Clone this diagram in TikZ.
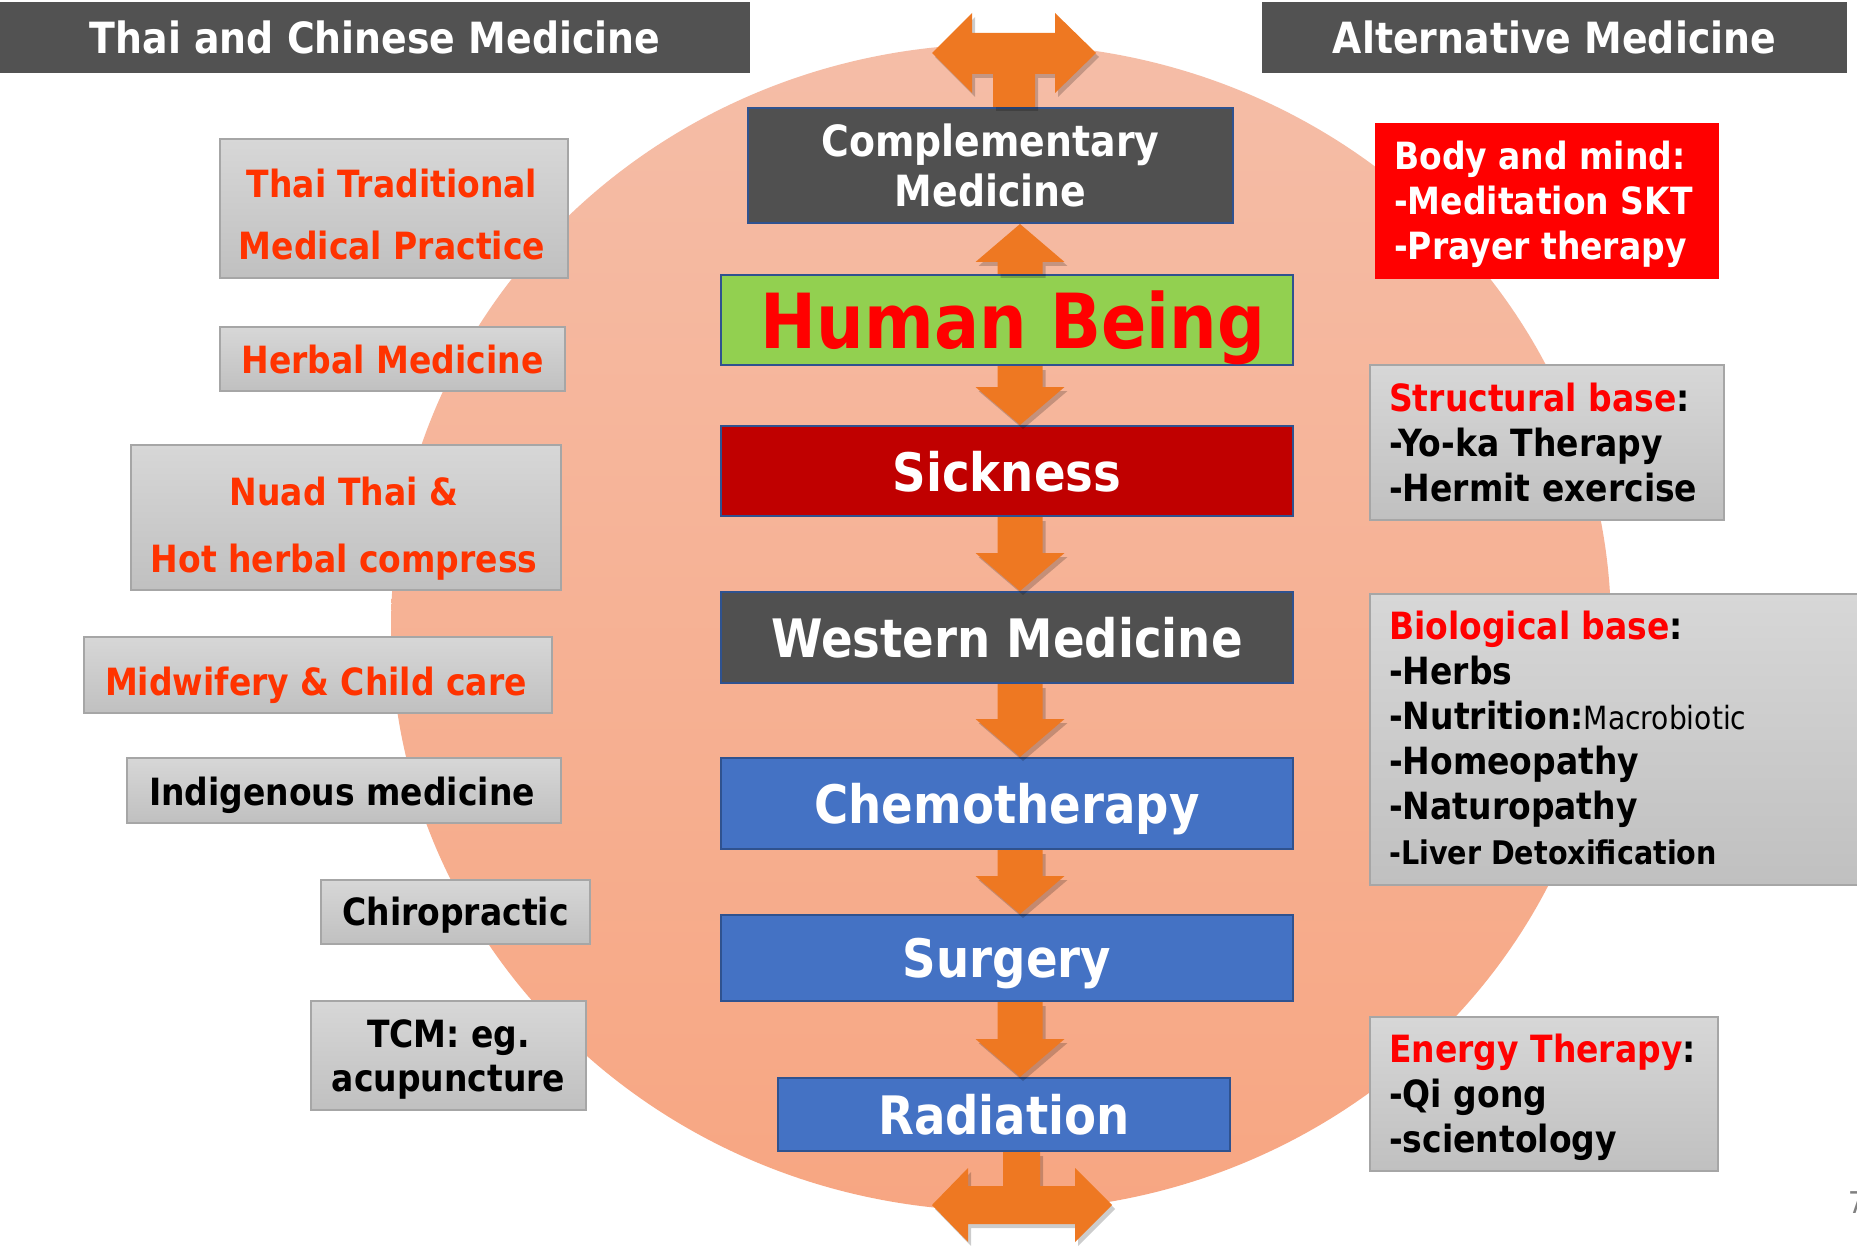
\documentclass[tikz,border=0pt]{standalone}
\usepackage{fontspec}
\setmainfont[FakeStretch=0.88]{DejaVu Sans}
\usetikzlibrary{calc,shadows}
\definecolor{darkbox}{RGB}{80,80,80}
\definecolor{hdr}{RGB}{82,82,82}
\definecolor{greenbox}{RGB}{146,208,80}
\definecolor{sickred}{RGB}{192,0,0}
\definecolor{bluebox}{RGB}{68,114,196}
\definecolor{bordblue}{RGB}{47,82,143}
\definecolor{orangetxt}{RGB}{255,51,0}
\definecolor{pured}{RGB}{255,0,0}
\definecolor{arrowor}{RGB}{238,120,34}
\definecolor{circtop}{RGB}{245,189,167}
\definecolor{circbot}{RGB}{247,166,130}
\definecolor{graytop}{RGB}{215,215,215}
\definecolor{graybot}{RGB}{192,192,192}
\definecolor{grayline}{RGB}{166,166,166}
\newcommand\fs[2]{\fontsize{#1}{#2}\selectfont\bfseries}
\def\ax{1020pt}
\newcommand\flowdown[2]{%
  \fill[flowarr] let \p1=(#1.south), \p2=(#2.north) in
    (\ax-22.5pt,\y1) -- (\ax+22.5pt,\y1) -- (\ax+22.5pt,\y2+38pt) -- (\ax+44.5pt,\y2+38pt)
    -- (\ax,\y2) -- (\ax-44.5pt,\y2+38pt) -- (\ax-22.5pt,\y2+38pt) -- cycle;}
\begin{document}
\begin{tikzpicture}[x=1pt,y=-1pt,
  hdrbox/.style={fill=hdr, inner sep=0pt, text=white, font=\fs{43}{50}},
  cbox/.style={draw=bordblue, line width=2pt, inner sep=0pt, align=center, text=white, font=\fs{53}{60}, text depth=0pt},
  gbox/.style={draw=grayline, line width=1.5pt, top color=graytop, bottom color=graybot, inner sep=0pt},
  ltext/.style={inner sep=0pt, align=center, text=orangetxt, font=\fs{37.5}{62}},
  rtext/.style={inner sep=0pt, align=left, anchor=west, font=\fs{37.5}{45}},
  flowarr/.style={fill=arrowor, drop shadow={shadow xshift=3pt, shadow yshift=-4pt, opacity=0.2, fill=black}}
]
\fill[white] (0,0) rectangle (1857,1246);
\useasboundingbox (0,0) rectangle (1857,1246);
% background disc
\shade[top color=circtop, bottom color=circbot, draw=none] (1001,627.5) ellipse [x radius=610, y radius=583.5];
% headers
\node[hdrbox, minimum width=750pt, minimum height=71pt] (hL) at (375,37.5) {Thai and Chinese Medicine};
\node[hdrbox, minimum width=585pt, minimum height=71pt] (hR) at (1554.5,37.5) {Alternative Medicine};
% central column
\node[cbox, fill=darkbox, minimum width=485pt, minimum height=115pt, font=\fs{43}{50}, text depth=] (cm) at (990.5,165.5) {Complementary\\Medicine};
\node[cbox, fill=greenbox, text=pured, minimum width=572pt, minimum height=90pt, font=\fs{76}{80}] (hb) at (1007,320) {\hspace*{12pt}Human Being};
\node[cbox, fill=sickred, minimum width=572pt, minimum height=90pt] (sk) at (1007,471) {Sickness};
\node[cbox, fill=darkbox, minimum width=572pt, minimum height=91pt] (wm) at (1007,637.5) {Western Medicine};
\node[cbox, fill=bluebox, minimum width=572pt, minimum height=91pt] (ch) at (1007,803.5) {Chemotherapy};
\node[cbox, fill=bluebox, minimum width=572pt, minimum height=86pt] (su) at (1007,958) {Surgery};
\node[cbox, fill=bluebox, minimum width=452pt, minimum height=73pt] (ra) at (1004,1114.5) {Radiation};
% left column boxes
\node[gbox, minimum width=348pt, minimum height=139pt] (l1) at (394,208.5) {};
\node[gbox, minimum width=345pt, minimum height=64pt] (l2) at (392.5,359) {};
\node[gbox, minimum width=430pt, minimum height=145pt] (l3) at (346,517.5) {};
\node[gbox, minimum width=468pt, minimum height=76pt] (l4) at (318,675) {};
\node[gbox, minimum width=434pt, minimum height=65pt] (l5) at (344,790.5) {};
\node[gbox, minimum width=269pt, minimum height=64pt] (l6) at (455.5,912) {};
\node[gbox, minimum width=275pt, minimum height=109pt] (l7) at (448.5,1055.5) {};
% left column texts
\node[ltext] (l1t) at ($(l1)+(-2,6.5)$) {Thai Traditional\\Medical Practice};
\node[ltext] (l2t) at ($(l2)+(0,1)$) {Herbal Medicine};
\node[ltext, font=\fs{37.5}{67}] (l3t) at ($(l3)+(-2,11)$) {Nuad Thai \&\\Hot herbal compress};
\node[ltext] (l4t) at ($(l4)+(-2,10.5)$) {Midwifery \& Child care};
\node[ltext, text=black] (l5t) at ($(l5)+(-2,4.5)$) {Indigenous medicine};
\node[ltext, text=black] (l6t) at ($(l6)+(0,3.5)$) {Chiropractic};
\node[ltext, text=black, font=\fs{37.5}{44}] (l7t) at ($(l7)+(0,3.5)$) {TCM: eg.\\acupuncture};
% right column boxes
\node[gbox, draw=pured, top color=pured, bottom color=pured, minimum width=342pt, minimum height=155pt, anchor=north west] (r1) at (1375,123) {};
\node[gbox, minimum width=354pt, minimum height=155pt, anchor=north west] (r2) at (1369,364) {};
\node[gbox, minimum width=511pt, minimum height=291pt, anchor=north west] (r3) at (1369,593) {};
\node[gbox, minimum width=348pt, minimum height=154pt, anchor=north west] (r4) at (1369,1016) {};
% right column texts
\node[rtext, text=white] (r1t) at ($(r1.west)+(19,3.5)$) {Body and mind:\\-Meditation SKT\\-Prayer therapy};
\node[rtext] (r2t) at ($(r2.west)+(20,0)$) {{\color{pured}Structural base}:\\-Yo-ka Therapy\\-Hermit exercise};
\node[rtext] (r3t) at ($(r3.west)+(20,-1)$) {{\color{pured}Biological base}:\\-Herbs\\-Nutrition:{\mdseries\fontsize{32}{45}\selectfont Macrobiotic}\\-Homeopathy\\-Naturopathy\\{\fontsize{32.5}{45}\selectfont -Liver Detoxification}};
\node[rtext] (r4t) at ($(r4.west)+(20,3.5)$) {{\color{pured}Energy Therapy}:\\-Qi gong\\-scientology};
% page number
\node[anchor=west, inner sep=0pt, text=gray, font=\fontsize{30}{36}\selectfont] (pg) at (1848,1203) {7};
% arrows
\fill[flowarr] let \p1=(hb.north), \p2=(cm.south) in
  (\ax-22.5pt,\y1) -- (\ax+22.5pt,\y1) -- (\ax+22.5pt,\y2-38pt) -- (\ax+44.5pt,\y2-38pt)
  -- (\ax,\y2) -- (\ax-44.5pt,\y2-38pt) -- (\ax-22.5pt,\y2-38pt) -- cycle;
\flowdown{hb}{sk}
\flowdown{sk}{wm}
\flowdown{wm}{ch}
\flowdown{ch}{su}
\flowdown{su}{ra}
\fill[flowarr] let \p1=(cm.north) in
  (993pt,\y1) -- (993,74) -- (972,74) -- (972,93) -- (932,53) -- (972,13) -- (972,33)
  -- (1055,33) -- (1055,13) -- (1096,53) -- (1055,93) -- (1055,74) -- (1035,74) -- (1035pt,\y1) -- cycle;
\fill[flowarr] let \p1=(ra.south) in
  (1003pt,\y1) -- (1003,1186) -- (968,1186) -- (968,1168) -- (932,1205) -- (968,1242) -- (968,1224)
  -- (1075,1224) -- (1075,1242) -- (1112,1205) -- (1075,1168) -- (1075,1186) -- (1040,1186) -- (1040pt,\y1) -- cycle;
\end{tikzpicture}
\end{document}
